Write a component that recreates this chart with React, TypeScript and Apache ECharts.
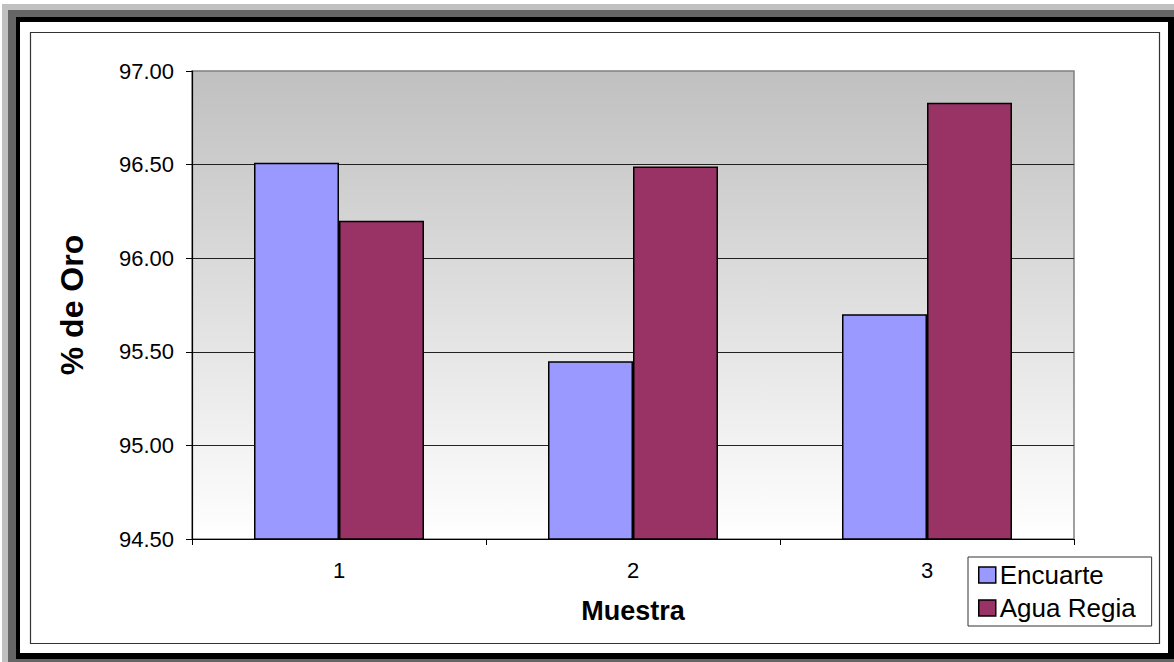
import React, { useEffect, useRef } from "react";
import * as echarts from "echarts";

// Muestras y porcentajes de oro por método
const categories = ["1", "2", "3"];
const encuarte = [96.51, 95.45, 95.7];
const aguaRegia = [96.2, 96.49, 96.83];
const seriesNames = ["Encuarte", "Agua Regia"];
const yMin = 94.5;
const yMax = 97.0;
const yStep = 0.5;

const FONT = "'Liberation Sans', Arial, sans-serif";

export default function App() {
  const ref = useRef<HTMLDivElement>(null);

  useEffect(() => {
    if (!ref.current) return;
    const chart = echarts.init(ref.current, undefined, { renderer: "svg" });

    const option: echarts.EChartsOption = {
      animation: false,
      backgroundColor: "#ffffff",
      textStyle: { fontFamily: FONT },
      graphic: {
        elements: [
          // page frame: light gray, dark gray shadow, black border, white sheet
          { type: "rect", z: -100, shape: { x: 2, y: 4, width: 1180, height: 670 }, style: { fill: "#c0c0c0" } },
          { type: "rect", z: -99, shape: { x: 8, y: 10, width: 1180, height: 670 }, style: { fill: "#666666" } },
          { type: "rect", z: -98, shape: { x: 16, y: 17, width: 1170, height: 642 }, style: { fill: "#000000" } },
          { type: "rect", z: -97, shape: { x: 20, y: 22, width: 1148, height: 631 }, style: { fill: "#ffffff" } },
          {
            type: "rect",
            z: -96,
            shape: { x: 30.5, y: 32.5, width: 1129, height: 611 },
            style: { fill: "none", stroke: "#333333", lineWidth: 1.2 },
          },
        ],
      },
      grid: {
        left: 192,
        top: 71,
        width: 882,
        height: 468,
        show: true,
        borderColor: "#808080",
        borderWidth: 1.5,
        backgroundColor: new echarts.graphic.LinearGradient(0, 0, 0, 1, [
          { offset: 0, color: "#c0c0c0" },
          { offset: 1, color: "#ffffff" },
        ]),
      },
      legend: {
        orient: "vertical",
        left: 968,
        top: 557,
        data: seriesNames,
        icon: "rect",
        itemWidth: 17,
        itemHeight: 16,
        itemGap: 7,
        padding: [5, 16, 5, 10],
        backgroundColor: "#ffffff",
        borderColor: "#333333",
        borderWidth: 1,
        itemStyle: { borderColor: "#000000", borderWidth: 1.5 },
        textStyle: { fontSize: 26, color: "#000000", fontFamily: FONT, padding: [0, 0, 0, -1] },
      },
      xAxis: {
        type: "category",
        data: categories,
        name: "Muestra",
        nameLocation: "middle",
        nameGap: 58,
        nameTextStyle: { fontSize: 27, fontWeight: "bold", color: "#000000", fontFamily: FONT },
        axisLine: { show: true, lineStyle: { color: "#000000", width: 1.2 } },
        axisTick: { show: true, inside: false, length: 6, alignWithLabel: false, lineStyle: { color: "#000000" } },
        axisLabel: { fontSize: 22, color: "#000000", margin: 20, fontFamily: FONT },
        splitLine: { show: false },
      },
      yAxis: {
        type: "value",
        min: yMin,
        max: yMax,
        interval: yStep,
        name: "% de Oro",
        nameLocation: "middle",
        nameGap: 104,
        nameRotate: 90,
        nameTextStyle: { fontSize: 32, fontWeight: "bold", color: "#000000", fontFamily: FONT },
        axisLine: { show: true, lineStyle: { color: "#000000", width: 1.2 } },
        axisTick: { show: true, inside: false, length: 6, lineStyle: { color: "#000000" } },
        axisLabel: {
          fontSize: 22,
          color: "#000000",
          margin: 18,
          fontFamily: FONT,
          formatter: (v: number) => v.toFixed(2),
        },
        splitLine: { show: true, showMinLine: false, showMaxLine: false, lineStyle: { color: "#222222", width: 1 } },
      },
      series: [
        {
          name: seriesNames[0],
          type: "bar",
          data: encuarte,
          barWidth: 85,
          barGap: "0%",
          itemStyle: { color: "#9999ff", borderColor: "#000000", borderWidth: 1.5 },
        },
        {
          name: seriesNames[1],
          type: "bar",
          data: aguaRegia,
          barWidth: 85,
          barGap: "0%",
          itemStyle: { color: "#993366", borderColor: "#000000", borderWidth: 1.5 },
        },
      ],
    };

    chart.setOption(option);
    return () => chart.dispose();
  }, []);

  return (
    <div
      ref={ref}
      style={{ position: "fixed", left: 0, top: 0, width: 1174, height: 662 }}
    />
  );
}
